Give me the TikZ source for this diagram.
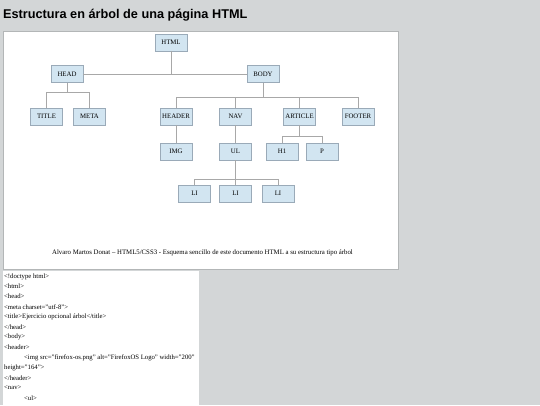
\documentclass[tikz,border=0pt]{standalone}
\usepackage{fontspec}
\setmainfont{Liberation Serif}
\newfontfamily\titlefont{Liberation Sans}
\definecolor{bgc}{HTML}{D3D6D7}
\definecolor{boxfill}{HTML}{D2E5F1}
\definecolor{boxline}{HTML}{9AAAB8}
\definecolor{linec}{HTML}{A8A8A8}
\tikzset{
  tag/.style={draw=boxline, fill=boxfill, line width=0.6pt, minimum width=32pt, minimum height=17pt, inner sep=0pt, font=\fontsize{6.8}{7}\selectfont},
  link/.style={draw=linec, line width=0.6pt},
  codeline/.style={anchor=west, inner sep=0pt, font=\fontsize{6.7}{7}\selectfont}
}
\begin{document}
\begin{tikzpicture}[x=1pt,y=-1pt]
\fill[bgc] (0,0) rectangle (540,405);
\useasboundingbox (0,0) rectangle (540,405);
\node[anchor=west, inner sep=0pt, font=\titlefont\bfseries\fontsize{12.7}{14}\selectfont] (title) at (3,15.5) {Estructura en árbol de una página HTML};
\fill[white] (3,31) rectangle (398,269);
\draw[bgc!85!black, line width=0.4pt] (3,31) rectangle (398,269);
\fill[white] (3,271) rectangle (199,405);
% nodes
\node[tag] (html) at (171,42.5) {HTML};
\node[tag] (head) at (67,74) {HEAD};
\node[tag] (body) at (263,74) {BODY};
\node[tag] (titlen) at (46.5,116.5) {TITLE};
\node[tag] (meta) at (89.5,116.5) {META};
\node[tag] (header) at (176,116.5) {HEADER};
\node[tag] (nav) at (235.5,116.5) {NAV};
\node[tag] (article) at (299.5,116.5) {ARTICLE};
\node[tag] (footer) at (358,116.5) {FOOTER};
\node[tag] (img) at (176,151.5) {IMG};
\node[tag] (ul) at (235.5,151.5) {UL};
\node[tag] (h1) at (282,151.5) {H1};
\node[tag] (p) at (322,151.5) {P};
\node[tag] (li1) at (194.5,193.5) {LI};
\node[tag] (li2) at (235.5,193.5) {LI};
\node[tag] (li3) at (278,193.5) {LI};
% connectors
\draw[link] (html.south) -- (html.south |- head.east);
\draw[link] (head.east) -- (body.west);
\draw[link] (head.south) -- ++(0,9.5) coordinate (hj);
\draw[link] (titlen.north) |- (hj) -| (meta.north);
\draw[link] (body.south) -- ++(0,14.5) coordinate (bj);
\draw[link] (header.north) |- (bj) -| (footer.north);
\draw[link] (nav.north) -- (nav.north |- bj);
\draw[link] (article.north) -- (article.north |- bj);
\draw[link] (header.south) -- (img.north);
\draw[link] (nav.south) -- (ul.north);
\draw[link] (article.south) -- ++(0,11) coordinate (aj);
\draw[link] (h1.north) |- (aj) -| (p.north);
\draw[link] (ul.south) -- ++(0,19) coordinate (uj);
\draw[link] (li1.north) |- (uj) -| (li3.north);
\draw[link] (li2.north) -- (uj);
% caption
\node[inner sep=0pt, font=\fontsize{6.8}{7}\selectfont] (caption) at (202.5,253) {Alvaro Martos Donat -- HTML5/CSS3 - Esquema sencillo de este documento HTML a su estructura tipo árbol};
% code
\node[codeline] (c1) at (4,276.5) {<!doctype html>};
\node[codeline] (c2) at (4,286.5) {<html>};
\node[codeline] (c3) at (4,296.7) {<head>};
\node[codeline] (c4) at (4,306.8) {<meta charset="utf-8">};
\node[codeline] (c5) at (4,317) {<title>Ejercicio opcional árbol</title>};
\node[codeline] (c6) at (4,327.1) {</head>};
\node[codeline] (c7) at (4,337.3) {<body>};
\node[codeline] (c8) at (4,347.4) {<header>};
\node[codeline] (c9) at (24,357.6) {<img src="firefox-os.png" alt="FirefoxOS Logo" width="200"};
\node[codeline] (c10) at (4,367.7) {height="164">};
\node[codeline] (c11) at (4,377.9) {</header>};
\node[codeline] (c12) at (4,388) {<nav>};
\node[codeline] (c13) at (24,398.2) {<ul>};
\end{tikzpicture}
\end{document}
